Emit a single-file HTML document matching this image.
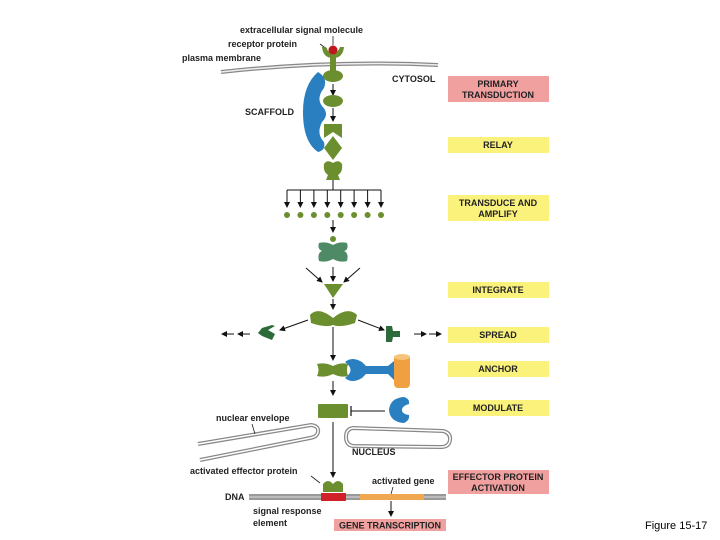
<!DOCTYPE html>
<html><head><meta charset="utf-8"><style>
html,body{margin:0;padding:0;background:#fff;width:720px;height:540px;overflow:hidden}
svg{display:block}
text{font-family:"Liberation Sans",sans-serif;font-weight:bold;font-size:9px;fill:#222}
.c{text-anchor:middle}
</style></head><body>
<svg width="720" height="540" viewBox="0 0 720 540" xmlns="http://www.w3.org/2000/svg">
<defs>
<marker id="a" markerWidth="6" markerHeight="6" refX="5" refY="3" orient="auto" markerUnits="userSpaceOnUse"><path d="M0,0 L6,3 L0,6 z" fill="#111"/></marker>
</defs>
<g>
<rect x="448" y="76" width="101" height="26" fill="#f1a0a0"/>
<text class="c" x="498" y="87">PRIMARY</text><text class="c" x="498" y="98">TRANSDUCTION</text>
<rect x="448" y="137" width="101" height="16" fill="#fbf27c"/>
<text class="c" x="498" y="148">RELAY</text>
<rect x="448" y="195" width="101" height="26" fill="#fbf27c"/>
<text class="c" x="498" y="206">TRANSDUCE AND</text><text class="c" x="498" y="217">AMPLIFY</text>
<rect x="448" y="282" width="101" height="16" fill="#fbf27c"/>
<text class="c" x="498" y="293">INTEGRATE</text>
<rect x="448" y="327" width="101" height="16" fill="#fbf27c"/>
<text class="c" x="498" y="338">SPREAD</text>
<rect x="448" y="361" width="101" height="16" fill="#fbf27c"/>
<text class="c" x="498" y="372">ANCHOR</text>
<rect x="448" y="400" width="101" height="16" fill="#fbf27c"/>
<text class="c" x="498" y="411">MODULATE</text>
<rect x="448" y="470" width="101" height="24" fill="#f1a0a0"/>
<text class="c" x="498" y="480">EFFECTOR PROTEIN</text><text class="c" x="498" y="491">ACTIVATION</text>
<rect x="334" y="519" width="112" height="12" fill="#f1a0a0"/>
<text class="c" x="390" y="528.5">GENE TRANSCRIPTION</text>
</g>
<path d="M221,72 Q330,60 438,65" fill="none" stroke="#888" stroke-width="4"/>
<path d="M221,72 Q330,60 438,65" fill="none" stroke="#eee" stroke-width="1.5"/>
<text x="240" y="33">extracellular signal molecule</text>
<text x="228" y="47">receptor protein</text>
<text x="182" y="61">plasma membrane</text>
<text x="392" y="82">CYTOSOL</text>
<text x="245" y="115">SCAFFOLD</text>
<line x1="320" y1="44" x2="327" y2="49" stroke="#222" stroke-width="0.8"/>
<line x1="333" y1="36" x2="333" y2="45" stroke="#222" stroke-width="0.8"/>
<path d="M322,47 Q323,58 333,58 Q343,58 344,47 L340,47 Q338,53 333,53 Q328,53 326,47z" fill="#6b8f2e"/>
<circle cx="333" cy="50" r="4.5" fill="#c0161d"/>
<rect x="330" y="57" width="6" height="14" fill="#6b8f2e"/>
<ellipse cx="333" cy="76" rx="10" ry="6" fill="#6b8f2e"/>
<path d="M318,72 Q303,85 303,112 Q303,142 318,152 Q326,150 324,142 Q316,134 322,122 Q330,114 322,106 Q316,98 324,88 Q328,78 318,72z" fill="#2a7fc0"/>
<line x1="333" y1="84" x2="333" y2="95" stroke="#111" marker-end="url(#a)"/>
<ellipse cx="333" cy="101" rx="10" ry="6" fill="#6b8f2e"/>
<line x1="333" y1="108" x2="333" y2="121" stroke="#111" marker-end="url(#a)"/>
<path d="M324,124 L342,124 L342,138 L333,132 L324,138z" fill="#6b8f2e"/>
<path d="M333,136 L342,148 L333,160 L324,148z" fill="#6b8f2e"/>
<path d="M324,164 Q327,159 333,163 Q339,159 342,164 Q343,172 338,175 L340,180 L326,180 L328,175 Q323,172 324,164z" fill="#6b8f2e"/>
<line x1="333" y1="180" x2="333" y2="190" stroke="#111"/>
<line x1="287" y1="190" x2="381" y2="190" stroke="#111"/>
<g stroke="#111" fill="#6b8f2e">
<line x1="287" y1="190" x2="287" y2="207" marker-end="url(#a)"/><circle cx="287" cy="215" r="3" stroke="none"/>
<line x1="300.4" y1="190" x2="300.4" y2="207" marker-end="url(#a)"/><circle cx="300.4" cy="215" r="3" stroke="none"/>
<line x1="313.9" y1="190" x2="313.9" y2="207" marker-end="url(#a)"/><circle cx="313.9" cy="215" r="3" stroke="none"/>
<line x1="327.3" y1="190" x2="327.3" y2="207" marker-end="url(#a)"/><circle cx="327.3" cy="215" r="3" stroke="none"/>
<line x1="340.7" y1="190" x2="340.7" y2="207" marker-end="url(#a)"/><circle cx="340.7" cy="215" r="3" stroke="none"/>
<line x1="354.1" y1="190" x2="354.1" y2="207" marker-end="url(#a)"/><circle cx="354.1" cy="215" r="3" stroke="none"/>
<line x1="367.6" y1="190" x2="367.6" y2="207" marker-end="url(#a)"/><circle cx="367.6" cy="215" r="3" stroke="none"/>
<line x1="381" y1="190" x2="381" y2="207" marker-end="url(#a)"/><circle cx="381" cy="215" r="3" stroke="none"/>
</g>
<line x1="333" y1="220" x2="333" y2="232" stroke="#111" marker-end="url(#a)"/>
<circle cx="333" cy="239" r="3" fill="#6b8f2e"/>
<path d="M319,243 Q326,241 333,245 Q340,241 347,243 Q349,250 344,251 Q349,253 347,261 Q340,263 333,259 Q326,263 319,261 Q317,253 322,251 Q317,249 319,243z" fill="#4e8a66"/>
<line x1="333" y1="267" x2="333" y2="281" stroke="#111" marker-end="url(#a)"/>
<line x1="306" y1="268" x2="322" y2="282" stroke="#111" marker-end="url(#a)"/>
<line x1="360" y1="268" x2="344" y2="282" stroke="#111" marker-end="url(#a)"/>
<path d="M324,284 L343,284 L333,298z" fill="#6b8f2e"/>
<line x1="333" y1="299" x2="333" y2="309" stroke="#111" marker-end="url(#a)"/>
<path d="M310,315 Q318,306 333,318 Q348,306 357,315 L355,323 Q340,328 333,325 Q326,328 311,323z" fill="#6b8f2e"/>
<line x1="308" y1="320" x2="280" y2="330" stroke="#111" marker-end="url(#a)"/>
<path d="M275,326 L268,330 L275,334 L272,340 L262,336 L258,333 L262,328 L272,325z" fill="#2e6b3a"/>
<line x1="250" y1="334" x2="238" y2="334" stroke="#111" marker-end="url(#a)"/>
<line x1="234" y1="334" x2="222" y2="334" stroke="#111" marker-end="url(#a)"/>
<line x1="358" y1="320" x2="384" y2="330" stroke="#111" marker-end="url(#a)"/>
<path d="M386,326 L392,326 L393,331 L400,331 L400,337 L393,337 L392,342 L386,342z" fill="#2e6b3a"/>
<line x1="414" y1="334" x2="426" y2="334" stroke="#111" marker-end="url(#a)"/>
<line x1="429" y1="334" x2="441" y2="334" stroke="#111" marker-end="url(#a)"/>
<line x1="333" y1="327" x2="333" y2="360" stroke="#111" marker-end="url(#a)"/>
<path d="M317,364 Q325,362 333,366 Q341,362 348,364 Q346,370 348,376 Q341,378 333,374 Q325,378 317,376 Q320,370 317,364z" fill="#6b8f2e"/>
<path d="M345,362 Q352,356 362,362 L366,366 L388,366 L394,361 L394,380 L388,374 L366,374 L362,378 Q352,384 345,378 Q356,370 345,362z" fill="#2a7fc0"/>
<rect x="394" y="355" width="16" height="33" rx="4" fill="#f0a040"/>
<ellipse cx="402" cy="357" rx="8" ry="3" fill="#f6c37a"/>
<line x1="333" y1="381" x2="333" y2="395" stroke="#111" marker-end="url(#a)"/>
<rect x="318" y="404" width="30" height="14" rx="1" fill="#6b8f2e"/>
<line x1="351" y1="411" x2="385" y2="411" stroke="#111"/>
<line x1="351" y1="406" x2="351" y2="416" stroke="#111" stroke-width="1.2"/>
<path d="M404,397 Q390,398 389,410 Q390,422 404,423 Q410,420 409,415 Q402,414 402,410 Q402,406 409,404 Q410,399 404,397z" fill="#2a7fc0"/>
<path d="M198,444 L311,425 Q319,426 318,432 Q317,437 310,438 L200,460" fill="none" stroke="#888" stroke-width="4"/>
<path d="M198,444 L311,425 Q319,426 318,432 Q317,437 310,438 L200,460" fill="none" stroke="#fff" stroke-width="1.5"/>
<path d="M353,428 L443,431 Q451,433 450,440 Q449,447 441,447 L353,446 Q346,445 346,437 Q346,429 353,428z" fill="none" stroke="#888" stroke-width="4"/>
<path d="M353,428 L443,431 Q451,433 450,440 Q449,447 441,447 L353,446 Q346,445 346,437 Q346,429 353,428z" fill="none" stroke="#fff" stroke-width="1.5"/>
<text x="216" y="421">nuclear envelope</text>
<line x1="252" y1="424" x2="255" y2="434" stroke="#222" stroke-width="0.8"/>
<text x="352" y="455">NUCLEUS</text>
<line x1="333" y1="422" x2="333" y2="477" stroke="#111" marker-end="url(#a)"/>
<text x="190" y="474">activated effector protein</text>
<line x1="311" y1="476" x2="320" y2="483" stroke="#222" stroke-width="0.8"/>
<path d="M323,492 L323,484 Q328,478 333,484 Q338,478 343,484 L343,492z" fill="#6b8f2e"/>
<rect x="249" y="494" width="197" height="6" fill="#999"/>
<line x1="249" y1="497" x2="446" y2="497" stroke="#ddd" stroke-width="1"/>
<rect x="321" y="493" width="25" height="8" fill="#d0202a"/>
<rect x="360" y="494" width="64" height="6" fill="#f0a850"/>
<text x="225" y="500">DNA</text>
<text x="372" y="484">activated gene</text>
<line x1="393" y1="487" x2="391" y2="494" stroke="#222" stroke-width="0.8"/>
<text x="253" y="514">signal response</text>
<text x="253" y="526">element</text>
<line x1="391" y1="501" x2="391" y2="516" stroke="#111" marker-end="url(#a)"/>
<text x="645" y="529" style="font-weight:normal;font-size:11px;fill:#000">Figure 15-17</text>
</svg>
</body></html>
